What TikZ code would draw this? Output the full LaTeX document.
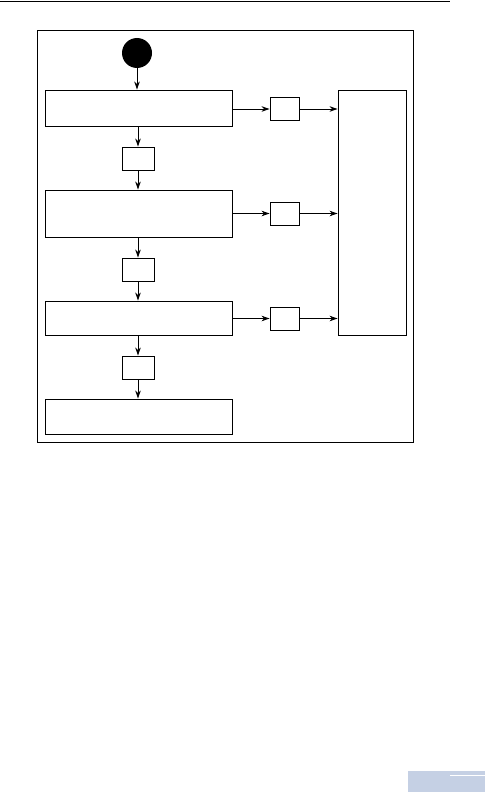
\documentclass[tikz,border=0pt]{standalone}
\usepackage{tikz}
\usetikzlibrary{arrows.meta, positioning, calc}
\definecolor{PageBlue}{HTML}{C5D0E4}

\begin{document}
\begin{tikzpicture}[x=1pt, y=-1pt,
    stage/.style={draw, line width=0.9pt, fill=white, minimum width=187pt, inner sep=0pt, sharp corners},
    tag/.style={draw, line width=0.9pt, fill=white, minimum width=32pt, minimum height=23pt, inner sep=0pt},
    flow/.style={-{Stealth[length=8pt, width=5.5pt]}, line width=0.9pt}]

    \useasboundingbox (0,0) rectangle (485,792);

    % Page furniture
    \draw[line width=0.9pt] (0,1.5) -- (450,1.5);
    \fill[PageBlue] (408,771) rectangle (485,792);
    \draw[white, line width=0.9pt] (450,775) -- (485,775);

    % Frame
    \draw[line width=0.9pt] (37,30) rectangle (413,442);

    % Blocks
    \node[circle, fill=black, minimum size=30pt, inner sep=0pt] (start) at (137,53) {};
    \node[stage, minimum height=36pt] (stageA) at (138.5,108) {};
    \node[tag] (tagA) at (138,158.5) {};
    \node[stage, minimum height=47pt] (stageB) at (138.5,213.5) {};
    \node[tag] (tagB) at (138,269.5) {};
    \node[stage, minimum height=34pt] (stageC) at (138.5,318) {};
    \node[tag] (tagC) at (138,367.5) {};
    \node[stage, minimum height=35pt] (stageD) at (138.5,416.5) {};

    \node[tag, minimum width=29pt] (outA) at (284.5,109) {};
    \node[tag, minimum width=29pt] (outB) at (284.5,213.5) {};
    \node[tag, minimum width=29pt] (outC) at (284.5,318.5) {};
    \node[draw, line width=0.9pt, minimum width=68pt, minimum height=245pt, inner sep=0pt] (store) at (372,212.5) {};

    % Arrows
    \draw[flow] (start) -- (start |- stageA.north);
    \draw[flow] (stageA.south -| tagA) -- (tagA);
    \draw[flow] (tagA) -- (tagA |- stageB.north);
    \draw[flow] (stageB.south -| tagB) -- (tagB);
    \draw[flow] (tagB) -- (tagB |- stageC.north);
    \draw[flow] (stageC.south -| tagC) -- (tagC);
    \draw[flow] (tagC) -- (tagC |- stageD.north);

    \draw[flow] (stageA.east |- outA) -- (outA);
    \draw[flow] (stageB.east |- outB) -- (outB);
    \draw[flow] (stageC.east |- outC) -- (outC);
    \draw[flow] (outA) -- (outA -| store.west);
    \draw[flow] (outB) -- (outB -| store.west);
    \draw[flow] (outC) -- (outC -| store.west);
\end{tikzpicture}
\end{document}
